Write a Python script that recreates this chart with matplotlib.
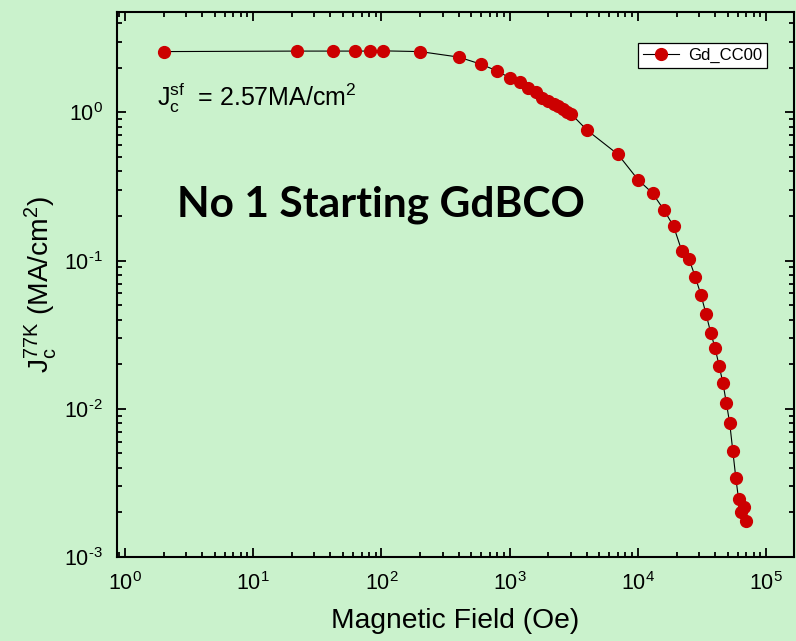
import numpy as np
import matplotlib
matplotlib.use('Agg')
import matplotlib.pyplot as plt
from matplotlib.ticker import LogLocator, NullFormatter, FuncFormatter

plt.rcParams['font.family'] = ['Liberation Sans', 'DejaVu Sans']
plt.rcParams['mathtext.fontset'] = 'custom'
plt.rcParams['mathtext.rm'] = 'Liberation Sans'
plt.rcParams['mathtext.it'] = 'Liberation Sans'
plt.rcParams['mathtext.bf'] = 'Liberation Sans:bold'

# field sweep (Oe) and critical current density at 77 K (MA/cm^2)
field = [2, 22, 42, 62, 82, 102, 200, 400, 600, 800, 1000, 1200, 1400, 1600,
         1800, 2000, 2200, 2400, 2600, 2800, 3000, 4000, 7000, 10000, 13000,
         16000, 19000, 22000, 25000, 28000, 31000, 34000, 37000, 40000, 43000,
         46000, 49000, 52000, 55000, 58000, 61000, 64000, 67000, 70000]
jc = [2.57, 2.59, 2.59, 2.59, 2.59, 2.60, 2.57, 2.36, 2.11, 1.90, 1.71, 1.59,
      1.47, 1.37, 1.25, 1.19, 1.14, 1.10, 1.05, 1.01, 0.98, 0.76, 0.52, 0.352,
      0.285, 0.219, 0.170, 0.116, 0.103, 0.0776, 0.0589, 0.0436, 0.0325,
      0.0257, 0.0195, 0.0150, 0.0109, 0.0080, 0.00518, 0.00343, 0.00245,
      0.00201, 0.00218, 0.00175]
series_name = 'Gd_CC00'
jc_sf = 2.57


def pow10(v, pos):
    e = int(round(np.log10(v)))
    if e < 0:
        return r'$\mathregular{10^{\text{-}%d}}$' % (-e)
    return r'$\mathregular{10^{%d}}$' % e


bg = '#CAF2CC'
fig = plt.figure(figsize=(7.96, 6.41), dpi=100, facecolor=bg)
ax = fig.add_axes([0.147, 0.131, 0.8505, 0.850], facecolor=bg)

ax.plot(field, jc, color='black', linewidth=0.8, marker='o', markersize=8.5,
        markerfacecolor='#CC0000', markeredgecolor='#CC0000', label=series_name)

ax.set_xscale('log')
ax.set_yscale('log')
ax.set_xlim(0.866, 1.65e5)
ax.set_ylim(1e-3, 4.74)

for axis in (ax.xaxis, ax.yaxis):
    axis.set_major_locator(LogLocator(base=10, numticks=20))
    axis.set_major_formatter(FuncFormatter(pow10))
    axis.set_minor_locator(LogLocator(base=10, subs=np.arange(2, 10), numticks=20))
    axis.set_minor_formatter(NullFormatter())

ax.tick_params(which='both', direction='in', top=True, right=True, width=1.3,
               labelsize=15.5, color='black')
ax.tick_params(which='major', length=6.5)
ax.tick_params(which='minor', length=3.5)
ax.tick_params(axis='x', which='major', pad=11)
ax.tick_params(axis='y', which='major', pad=10)
for s in ax.spines.values():
    s.set_linewidth(1.5)

ax.set_xlabel('Magnetic Field (Oe)', fontsize=20.3, labelpad=9)
ax.set_ylabel(r'$\mathregular{J_c^{77K}}$ (MA/cm$\mathregular{^2}$)', fontsize=20.3, labelpad=4)

ax.text(0.059, 0.8275, r'$\mathregular{J_c^{sf}}$  = ' + f'{jc_sf:.2f}' + r'MA/cm$\mathregular{^2}$',
        transform=ax.transAxes, fontsize=18, ha='left', va='baseline')
ax.text(0.390, 0.6255, 'No 1 Starting GdBCO', transform=ax.transAxes,
        fontsize=30.6, fontweight='bold', family=['Lato', 'DejaVu Sans'],
        ha='center', va='baseline')

leg = ax.legend(loc='upper right', bbox_to_anchor=(0.960, 0.943), borderaxespad=0,
                fancybox=False, framealpha=1, edgecolor='black', fontsize=12,
                handlelength=2.2, borderpad=0.3, handletextpad=0.5)
leg.get_frame().set_linewidth(0.9)

fig.savefig('out.png', dpi=100, facecolor=bg)
